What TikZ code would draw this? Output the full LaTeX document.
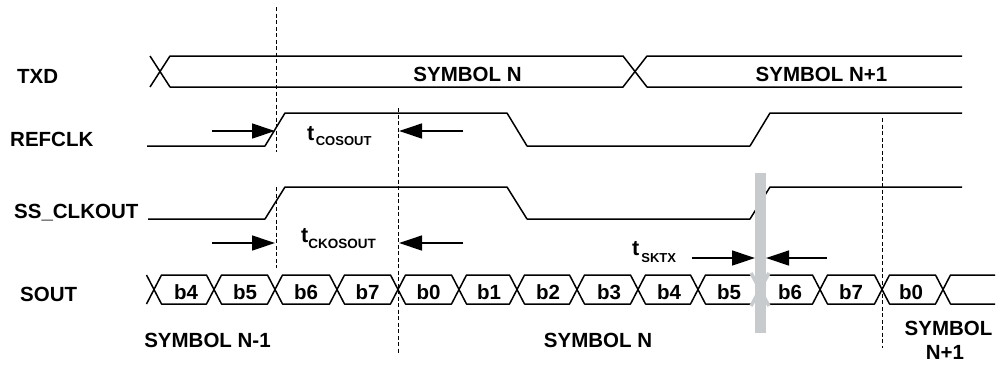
\documentclass[tikz,border=0pt]{standalone}
\usepackage{fontspec}
\setmainfont{Liberation Sans}
\usetikzlibrary{arrows.meta}
\definecolor{barGray}{RGB}{200,203,206}
\begin{document}
\begin{tikzpicture}[x=1pt,y=-1pt,
  wave/.style={line width=1.5pt, line join=round},
  guide/.style={line width=1pt, dash pattern=on 4pt off 2.5pt},
  meas/.style={line width=1.3pt, -{Triangle[length=23pt,width=15pt]}},
  lbl/.style={font=\fontsize{20.5}{20.5}\selectfont\bfseries, inner sep=0pt, anchor=base west},
  ctr/.style={font=\fontsize{20.5}{20.5}\selectfont\bfseries, inner sep=0pt, anchor=base},
  tlbl/.style={font=\bfseries, inner sep=0pt, anchor=base west},
]
\useasboundingbox (0,0) rectangle (998,364);

% guide lines
\draw[guide] (276,7) -- (276,152);
\draw[guide] (276,187) -- (276,268);
\draw[guide] (398,108) -- (398,353);
\draw[guide] (882,118) -- (882,348);

% TXD bus
\draw[wave] (150,56) -- (170,87) -- (623,87) -- (647,56) -- (962,56);
\draw[wave] (150,87) -- (170,56) -- (623,56) -- (647,87) -- (962,87);

% REFCLK
\draw[wave] (147,146) -- (265,146) -- (285,113) -- (507,113) -- (527,146) -- (750,146) -- (770,113) -- (962,113);
% SS_CLKOUT
\draw[wave] (148,219) -- (265,219) -- (285,187) -- (507,187) -- (527,219) -- (750,219) -- (770,187) -- (962,187);

% SOUT bus
\draw[wave] (146.5,275) -- (154,289.5) -- (146.5,304);
\foreach \a/\b in {154/214,214/275,275/337,337/398,398/459,459/517,517/577,577/638,638/698,698/760,760/820,820/882,882/943}
  \draw[wave] (\a,289.5) -- ({\a+7.5},275) -- ({\b-7.5},275) -- (\b,289.5) -- ({\b-7.5},304) -- ({\a+7.5},304) -- cycle;
\draw[wave] (995,275) -- (950.5,275) -- (943,289.5) -- (950.5,304) -- (995,304);

% bit labels
\foreach \x/\t [count=\i] in {186/b4,245/b5,306/b6,367.5/b7,428.5/b0,489/b1,548/b2,609/b3,669/b4,729/b5,790/b6,851/b7,911/b0}
  \node[ctr] (bit\i) at (\x,299) {\t};

% skew bar
\draw[barGray, line width=3.5pt] (751,273) -- (769,306) (751,306) -- (769,273);
\fill[barGray] (755,173) rectangle (766,333);

% measurement arrows
\coordinate (ra) at (212,131); \coordinate (rb) at (275,131);
\coordinate (rc) at (463,131); \coordinate (rd) at (399,131);
\coordinate (ka) at (212,243); \coordinate (kb) at (275,243);
\coordinate (kc) at (463,243); \coordinate (kd) at (399,243);
\coordinate (sa) at (692,258); \coordinate (sb) at (755,258);
\coordinate (sc) at (827,258); \coordinate (sd) at (766,258);
\draw[meas] (ra) -- (rb);
\draw[meas] (rc) -- (rd);
\draw[meas] (ka) -- (kb);
\draw[meas] (kc) -- (kd);
\draw[meas] (sa) -- (sb);
\draw[meas] (sc) -- (sd);

% timing labels
\node[tlbl] (tcos) at (307,140) {{\fontsize{21.5}{21.5}\selectfont t}\kern1.5pt\raisebox{-5pt}{\fontsize{13}{13}\selectfont COSOUT}};
\node[tlbl] (tckos) at (301,242) {{\fontsize{21.5}{21.5}\selectfont t}\raisebox{-6pt}{\fontsize{13.5}{13.5}\selectfont CKOSOUT}};
\node[tlbl] (tsk) at (632,255) {{\fontsize{21.5}{21.5}\selectfont t}\kern2pt\raisebox{-7.5pt}{\fontsize{13}{13}\selectfont SKTX}};

% signal labels
\node[lbl] (txd) at (17,83) {TXD};
\node[lbl] (refclk) at (10,146) {REFCLK};
\node[lbl] (ssclk) at (14,218) {SS\_CLKOUT};
\node[lbl] (sout) at (20,301) {SOUT};

% symbol labels
\node[ctr] (symN) at (467.5,81) {SYMBOL N};
\node[ctr] (symNp) at (821.5,81) {SYMBOL N+1};
\node[ctr] (symNm) at (207.5,347) {SYMBOL N-1};
\node[ctr] (symNb) at (598,347) {SYMBOL N};
\node[ctr] (symNpa) at (948.5,335) {SYMBOL};
\node[ctr] (symNpb) at (945,359) {N+1};
\end{tikzpicture}
\end{document}
